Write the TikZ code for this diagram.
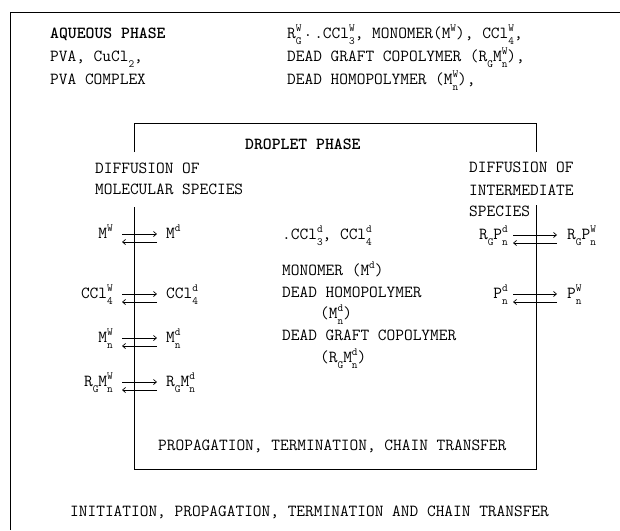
\documentclass[tikz,border=0pt]{standalone}
\usepackage{fontspec}
\usetikzlibrary{arrows.meta}
\newcommand\mainsz{\ttfamily\fontsize{16.9}{19}\selectfont}
\newcommand\smalltt{\ttfamily\fontsize{11}{11}\selectfont}
\newcommand\xlo[1]{{\smalltt\raisebox{-6pt}[0pt][0pt]{#1}}}
\newcommand\xhi[1]{{\smalltt\raisebox{7pt}[0pt][0pt]{#1}}}
\newcommand\xlohi[2]{{\smalltt\rlap{\raisebox{-6pt}[0pt][0pt]{#1}}\raisebox{7pt}[0pt][0pt]{#2}}}
\begin{document}
\begin{tikzpicture}[x=1pt,y=-1pt,
  txt/.style={font=\mainsz, inner sep=0pt, anchor=base west},
  labl/.style={txt, anchor=base east},
  frame/.style={line width=1pt},
  boxline/.style={line width=0.9pt},
  eqarrow/.style={line width=0.7pt, -{Straight Barb[length=3pt,width=5pt]}}]
\useasboundingbox (0,0) rectangle (620,530);
% outer frame (only top and left edges are visible)
\draw[frame] (10,530) -- (10,12) -- (620,12);
% droplet box
\draw[boxline] (134,152) -- (134,123) -- (536,123) -- (536,152);
\draw[boxline] (134,207) -- (134,469) -- (536,469) -- (536,205);
% aqueous phase texts
\node[txt] (aq1) at (50,38) {\bfseries AQUEOUS PHASE};
\node[txt] (aq2) at (50,61) {PVA, CuCl\xlo{2},};
\node[txt] (aq3) at (50,84) {PVA COMPLEX};
\node[txt] (aq4) at (287,38) {R\xlohi{G}{W}\kern2pt\raisebox{2pt}[0pt][0pt]{.}\kern2pt.CCl\xlohi{3}{W}, MONOMER(M\xhi{W}), CCl\xlohi{4}{W},};
\node[txt] (aq5) at (287,61) {DEAD GRAFT COPOLYMER (R\xlo{G}M\xlohi{n}{W}),};
\node[txt] (aq6) at (287,84) {DEAD HOMOPOLYMER (M\xlohi{n}{W}),};
% droplet phase
\node[txt] (dp) at (245,149) {\bfseries DROPLET PHASE};
\node[txt] (dl1) at (95,173) {DIFFUSION OF};
\node[txt] (dl2) at (95,194) {MOLECULAR SPECIES};
\node[txt] (dr1) at (469,172) {DIFFUSION OF};
\node[txt] (dr2) at (469,195) {INTERMEDIATE};
\node[txt] (dr3) at (469,216) {SPECIES};
\node[txt] (c1) at (282,239) {.CCl\xlohi{3}{d}, CCl\xlohi{4}{d}};
\node[txt] (c2) at (282,275) {MONOMER (M\xhi{d})};
\node[txt] (c3) at (282,297) {DEAD HOMOPOLYMER};
\node[txt] (c4) at (320,318) {(M\xlohi{n}{d})};
\node[txt] (c5) at (282,340) {DEAD GRAFT COPOLYMER};
\node[txt] (c6) at (320,362) {(R\xlo{G}M\xlohi{n}{d})};
\node[txt] (pt) at (158,450) {PROPAGATION, TERMINATION, CHAIN TRANSFER};
\node[txt] (ip) at (70,516) {INITIATION, PROPAGATION, TERMINATION AND CHAIN TRANSFER};
% left exchange rows
\node[labl] (l1w) at (113,238) {M\xhi{W}};
\node[txt]  (l1d) at (166,238) {M\xhi{d}};
\node[labl] (l2w) at (113,298) {CCl\xlohi{4}{W}};
\node[txt]  (l2d) at (166,298) {CCl\xlohi{4}{d}};
\node[labl] (l3w) at (113,342) {M\xlohi{n}{W}};
\node[txt]  (l3d) at (166,342) {M\xlohi{n}{d}};
\node[labl] (l4w) at (113,386) {R\xlo{G}M\xlohi{n}{W}};
\node[txt]  (l4d) at (166,386) {R\xlo{G}M\xlohi{n}{d}};
\foreach \r in {1,2,3,4}{
  \draw[eqarrow] ([shift={(9,-4)}]l\r w.base east) -- ([shift={(-9,-4)}]l\r d.base west);
  \draw[eqarrow] ([shift={(-9,4)}]l\r d.base west) -- ([shift={(9,4)}]l\r w.base east);
}
% right exchange rows
\node[labl] (r1d) at (508,239) {R\xlo{G}P\xlohi{n}{d}};
\node[txt]  (r1w) at (567,239) {R\xlo{G}P\xlohi{n}{W}};
\node[labl] (r2d) at (508,298) {P\xlohi{n}{d}};
\node[txt]  (r2w) at (567,298) {P\xlohi{n}{W}};
\foreach \r in {1,2}{
  \draw[eqarrow] ([shift={(5,-4)}]r\r d.base east) -- ([shift={(-10,-4)}]r\r w.base west);
  \draw[eqarrow] ([shift={(-10,4)}]r\r w.base west) -- ([shift={(5,4)}]r\r d.base east);
}
\end{tikzpicture}
\end{document}
